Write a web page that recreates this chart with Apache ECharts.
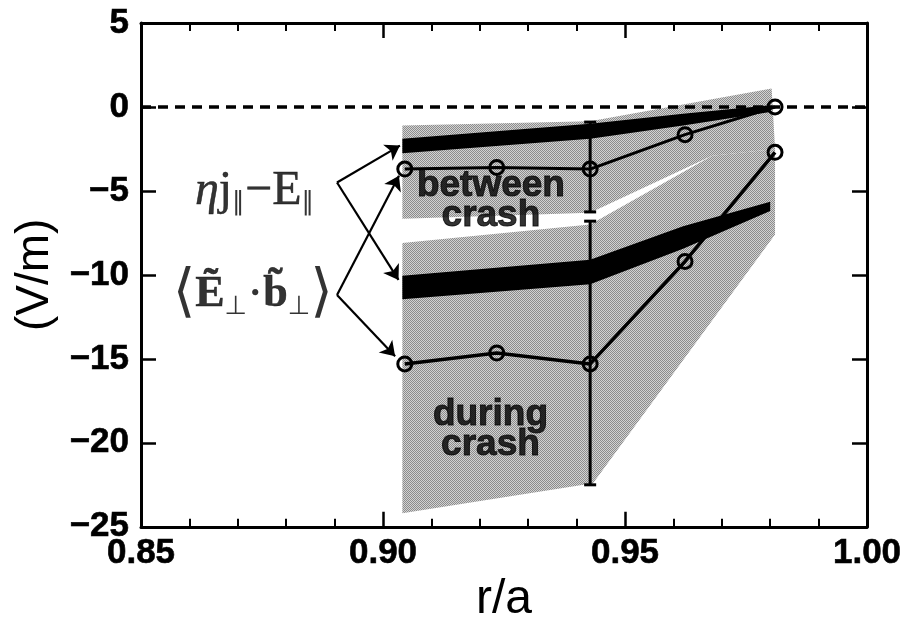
<!DOCTYPE html>
<html>
<head>
<meta charset="utf-8">
<script src="https://cdn.jsdelivr.net/npm/echarts@6/dist/echarts.min.js"></script>
<style>
  html, body { margin: 0; padding: 0; background: #fff; }
  #chart { width: 912px; height: 629px; }
</style>
</head>
<body>
<div id="chart"></div>
<script>
// circles: <E~.b~> between / during crash
const rCircle = [0.9045, 0.9235, 0.9428, 0.9624, 0.981];
const ebBetween = [-3.7, -3.6, -3.7, -1.65, 0.0];
const ebDuring = [-15.3, -14.65, -15.3, -9.2, -2.7];

// thick bands: eta j - E (between / during crash)
const rBand = [0.904, 0.9428, 0.962, 0.980];
const jeBetweenHi = [-1.9, -1.0, -0.4, 0.1];
const jeBetweenLo = [-2.75, -1.9, -1.1, -0.3];
const jeDuringHi = [-10.05, -9.1, -7.1, -5.65];
const jeDuringLo = [-11.45, -10.55, -8.45, -6.2];

// stippled ranges
const shadeBetweenR = [0.904, 0.9428, 0.9803, 0.981, 0.968, 0.9428, 0.904];
const shadeBetweenV = [-1.1, -0.85, 1.1, -2.5, -2.9, -6.3, -6.65];
const shadeDuringR = [0.904, 0.9428, 0.968, 0.981, 0.981, 0.9434, 0.904];
const shadeDuringV = [-8.1, -7.0, -2.9, -2.5, -7.6, -22.4, -24.2];

// error bars at r/a = 0.9428
const errBars = [[0.9428, -0.9, -6.25], [0.9428, -6.8, -22.5]];

// arrows from the two labels
const arrowsJE = [[[0.8905, -4.5], [0.9035, -2.3]], [[0.8905, -4.5], [0.9032, -10.3]]];
const arrowsEB = [[[0.8905, -11.2], [0.9033, -4.1]], [[0.8905, -11.2], [0.9025, -14.85]]];

const xTicks = [0.85, 0.90, 0.95, 1.00];
const yTicks = [-25, -20, -15, -10, -5, 0, 5];

const chart = echarts.init(document.getElementById('chart'));

// stipple tile for the shaded ranges
const tile = document.createElement('canvas');
tile.width = 2; tile.height = 2;
const tctx = tile.getContext('2d');
tctx.fillStyle = '#d2d2d2'; tctx.fillRect(0, 0, 2, 2);
tctx.fillStyle = '#8c8c8c'; tctx.fillRect(0, 0, 1, 1); tctx.fillRect(1, 1, 1, 1);
const SHADE = { image: tile, repeat: 'repeat' };

function polySeries(xs, ys, color, z) {
    return {
        type: 'custom', z, silent: true, clip: true,
        data: xs.map((x, i) => [x, ys[i]]),
        renderItem: (params, api) => {
            if (params.dataIndex !== 0) return null;
            return {
                type: 'polygon',
                shape: { points: xs.map((x, i) => api.coord([x, ys[i]])) },
                style: { fill: color }
            };
        }
    };
}

function bandSeries(hi, lo, z) {
    const xs = rBand.concat(rBand.slice().reverse());
    const ys = hi.concat(lo.slice().reverse());
    return polySeries(xs, ys, '#000', z);
}

const axisBase = {
    type: 'value',
    axisLine: { show: true, onZero: false, lineStyle: { color: '#000', width: 3 } },
    axisTick: { show: true, inside: true, length: 15, lineStyle: { color: '#000', width: 2.5 } },
    splitLine: { show: false }
};

const tickFont = {
    fontFamily: 'Liberation Sans', fontWeight: 'bold', fontSize: 35, color: '#000',
    textBorderColor: '#000', textBorderWidth: 0.6
};

const serif = (extra) => Object.assign({
    fontFamily: 'Liberation Serif', color: '#000', textBorderColor: '#000', textBorderWidth: 0.5
}, extra);

const option = {
    animation: false,
    backgroundColor: '#fff',
    grid: { left: 141, right: 45, top: 23, bottom: 94 },
    xAxis: [
        Object.assign({}, axisBase, {
            min: xTicks[0], max: xTicks[xTicks.length - 1], interval: 0.05,
            position: 'bottom',
            minorTick: { show: true, splitNumber: 5, length: 8, lineStyle: { color: '#000', width: 2 } },
            axisLabel: Object.assign({ margin: 9, formatter: v => v.toFixed(2) }, tickFont),
            name: 'r/a', nameLocation: 'middle', nameGap: 36,
            nameTextStyle: { fontFamily: 'Liberation Sans', fontSize: 48, color: '#000' }
        }),
        Object.assign({}, axisBase, {
            min: xTicks[0], max: xTicks[xTicks.length - 1], interval: 0.05,
            position: 'top',
            minorTick: { show: true, splitNumber: 5, length: 8, lineStyle: { color: '#000', width: 2 } },
            axisLabel: { show: false }
        })
    ],
    yAxis: [
        Object.assign({}, axisBase, {
            min: yTicks[0], max: yTicks[yTicks.length - 1], interval: 5,
            position: 'left',
            axisLabel: Object.assign({ margin: 12, formatter: v => String(v).replace('-', '\u2212') }, tickFont),
            name: '(V/m)', nameLocation: 'middle', nameGap: 82, nameRotate: 90,
            nameTextStyle: { fontFamily: 'Liberation Sans', fontSize: 46, color: '#000' }
        }),
        Object.assign({}, axisBase, {
            min: yTicks[0], max: yTicks[yTicks.length - 1], interval: 5,
            position: 'right',
            axisLabel: { show: false }
        })
    ],
    series: [
        polySeries(shadeBetweenR, shadeBetweenV, SHADE, 1),
        polySeries(shadeDuringR, shadeDuringV, SHADE, 1),
        bandSeries(jeBetweenHi, jeBetweenLo, 3),
        bandSeries(jeDuringHi, jeDuringLo, 3),
        {
            type: 'custom', z: 4, silent: true,
            data: errBars,
            renderItem: (params, api) => {
                const top = api.coord([api.value(0), api.value(1)]);
                const bot = api.coord([api.value(0), api.value(2)]);
                const st = { stroke: '#000', lineWidth: 3 };
                return {
                    type: 'group',
                    children: [
                        { type: 'line', shape: { x1: top[0], y1: top[1], x2: bot[0], y2: bot[1] }, style: st },
                        { type: 'line', shape: { x1: top[0] - 6, y1: top[1], x2: top[0] + 6, y2: top[1] }, style: st },
                        { type: 'line', shape: { x1: bot[0] - 6, y1: bot[1], x2: bot[0] + 6, y2: bot[1] }, style: st }
                    ]
                };
            }
        },
        {
            type: 'line', z: 5, silent: true,
            data: [[xTicks[0], 0], [xTicks[xTicks.length - 1], 0]],
            symbol: 'none',
            lineStyle: { color: '#000', width: 3.5, type: [10, 7] }
        },
        {
            type: 'line', z: 6, name: 'between',
            data: rCircle.map((r, i) => [r, ebBetween[i]]),
            symbol: 'circle', symbolSize: 14, showAllSymbol: true,
            lineStyle: { color: '#000', width: 3 },
            itemStyle: { color: 'rgba(0,0,0,0)', borderColor: '#000', borderWidth: 3 }
        },
        {
            type: 'line', z: 6, name: 'during',
            data: rCircle.map((r, i) => [r, ebDuring[i]]),
            symbol: 'circle', symbolSize: 14, showAllSymbol: true,
            lineStyle: { color: '#000', width: 3.5 },
            itemStyle: { color: 'rgba(0,0,0,0)', borderColor: '#000', borderWidth: 3 }
        },
        {
            type: 'lines', z: 7, coordinateSystem: 'cartesian2d', silent: true,
            symbol: ['none', 'arrow'], symbolSize: 14,
            lineStyle: { color: '#000', width: 2.2, opacity: 1 },
            data: arrowsJE.concat(arrowsEB).map(c => ({ coords: c }))
        },
        {
            type: 'scatter', z: 8, silent: true, symbolSize: 0,
            data: [
                { value: [0.9223, -5.6], name: 'between\ncrash' },
                { value: [0.9222, -19.2], name: 'during\ncrash' }
            ],
            label: {
                show: true, position: 'inside', formatter: p => p.name,
                fontFamily: 'Liberation Sans', fontWeight: 'bold', fontSize: 37,
                lineHeight: 30, color: '#000', textBorderColor: '#000', textBorderWidth: 1
            }
        },
        {
            type: 'scatter', z: 8, silent: true, symbolSize: 0,
            data: [
                { value: [0.8735, -5.0], name: '{eta|\u03b7}{r|j}{sub|\u2225}{r|\u2212E}{sub|\u2225}' },
                { value: [0.8731, -11.2], name: '{br|\u27e8}{b|\u1ebc}{sub|\u22a5}{r|\u00b7}{b|b\u0303}{sub|\u22a5}{br|\u27e9}' }
            ],
            label: {
                show: true, position: 'inside', formatter: p => p.name, color: '#000',
                rich: {
                    eta: serif({ fontStyle: 'italic', fontSize: 48, lineHeight: 48 }),
                    r: serif({ fontSize: 48, lineHeight: 48 }),
                    b: serif({ fontWeight: 'bold', fontSize: 44, lineHeight: 48 }),
                    sub: { fontFamily: 'DejaVu Sans', fontSize: 26, lineHeight: 26, padding: [24, 0, 0, 0], color: '#000' },
                    br: { fontFamily: 'DejaVu Serif', fontSize: 58, lineHeight: 62, color: '#000' }
                }
            }
        }
    ]
};

chart.setOption(option);
</script>
</body>
</html>
